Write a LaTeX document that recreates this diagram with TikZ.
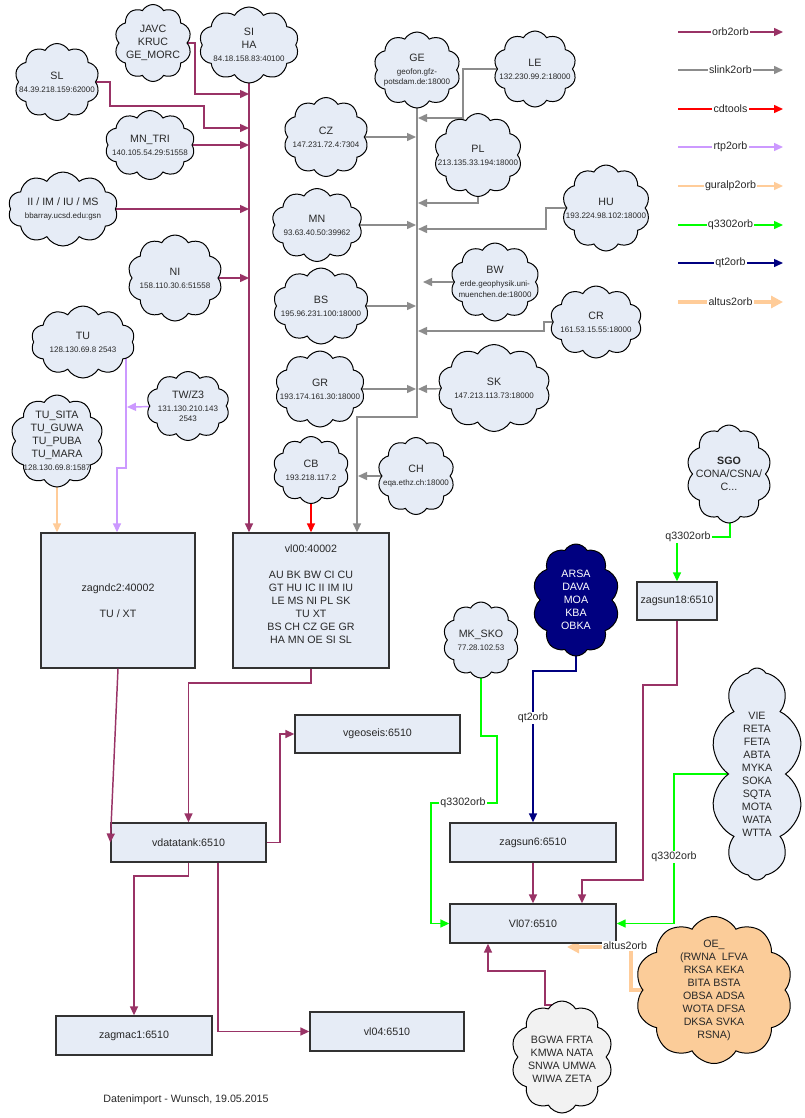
\documentclass[tikz,border=0pt]{standalone}
\usepackage{fontspec}
\setmainfont{Liberation Sans}
\usetikzlibrary{shapes.symbols,arrows.meta,backgrounds}
\definecolor{cfill}{RGB}{230,236,246}
\definecolor{cbox}{RGB}{50,50,50}
\definecolor{corb}{RGB}{153,51,102}
\definecolor{cslink}{RGB}{140,140,140}
\definecolor{ccd}{RGB}{255,0,0}
\definecolor{crtp}{RGB}{204,153,255}
\definecolor{cgur}{RGB}{255,204,153}
\definecolor{cq}{RGB}{0,255,0}
\definecolor{cqt}{RGB}{0,0,128}
\definecolor{ctxt}{RGB}{40,40,40}
\definecolor{cgrey}{RGB}{242,242,242}
\definecolor{coe}{RGB}{251,204,153}
\newcommand\nmf{\fontsize{8}{9.75}\selectfont}
\newcommand\ipf{\fontsize{6}{7.5}\selectfont}
\begin{document}
\begin{tikzpicture}[x=0.75pt,y=-0.75pt,
  cl/.style={cloud, cloud puffs=10, cloud puff arc=120, cloud ignores aspect, draw=black, line width=0.75pt, fill=cfill, inner sep=0pt},
  cltxt/.style={align=center, font=\nmf, text=ctxt, inner sep=0pt},
  bx/.style={draw=cbox, line width=1pt, fill=cfill, align=center, font=\nmf, text=ctxt, inner sep=0pt},
  con/.style={line width=1.1pt, -{Triangle[length=6.75pt,width=6pt]}},
  orb/.style={con, draw=corb},
  slink/.style={con, draw=cslink},
  cdt/.style={con, draw=ccd},
  rtp/.style={con, draw=crtp},
  gur/.style={con, draw=cgur},
  q3/.style={con, draw=cq},
  qt/.style={con, draw=cqt},
  alt/.style={line width=2.4pt, draw=cgur, -{Triangle[length=9pt,width=9pt]}},
  lbl/.style={fill=white, font=\nmf, text=ctxt, inner sep=1pt},
]
\useasboundingbox (0,0) rectangle (805,1118);

% ---------- clouds ----------
\node[cl, minimum width=57.75pt, minimum height=57.75pt, label={[cltxt]center:{JAVC\\KRUC\\GE\_MORC}}] (javc) at (153,43) {};
\node[cl, minimum width=75pt, minimum height=57pt, label={[cltxt]center:{SI\\HA\\{\ipf 84.18.158.83:40100}}}] (si) at (249,45) {};
\node[cl, minimum width=63.75pt, minimum height=57.75pt, label={[cltxt]center:{SL\\{\ipf 84.39.218.159:62000}}}] (sl) at (57,82) {};
\node[cl, minimum width=67.5pt, minimum height=51.75pt, label={[cltxt]center:{MN\_TRI\\{\ipf 140.105.54.29:51558}}}] (mntri) at (150,145) {};
\node[cl, minimum width=82.5pt, minimum height=55.5pt, label={[cltxt]center:{II / IM / IU / MS\\{\ipf bbarray.ucsd.edu:gsn}}}] (ii) at (63,209) {};
\node[cl, minimum width=71.25pt, minimum height=64.5pt, label={[cltxt]center:{NI\\{\ipf 158.110.30.6:51558}}}] (ni) at (175,278) {};
\node[cl, minimum width=78pt, minimum height=54pt, label={[cltxt]center:{TU\\{\ipf 128.130.69.8 2543}}}] (tu) at (83,342) {};
\node[cl, minimum width=62.25pt, minimum height=51.75pt, label={[cltxt]center:{TW/Z3\\{\ipf 131.130.210.143}\\[-1.8pt]{\ipf 2543}}}] (twz3) at (188,406) {};
\node[cl, minimum width=70pt, minimum height=69pt, label={[cltxt]center:{TU\_SITA\\TU\_GUWA\\TU\_PUBA\\TU\_MARA\\{\ipf 128.130.69.8:1587}}}] (tusita) at (57,441) {};
\node[cl, minimum width=65.25pt, minimum height=57pt, label={[cltxt]center:{GE\\{\ipf geofon.gfz-}\\[-1.8pt]{\ipf potsdam.de:18000}}}] (ge) at (417,70) {};
\node[cl, minimum width=62.25pt, minimum height=57pt, label={[cltxt]center:{LE\\{\ipf 132.230.99.2:18000}}}] (le) at (535,69) {};
\node[cl, minimum width=63.75pt, minimum height=59.25pt, label={[cltxt]center:{CZ\\{\ipf 147.231.72.4:7304}}}] (cz) at (326,137) {};
\node[cl, minimum width=66pt, minimum height=62.25pt, label={[cltxt]center:{PL\\{\ipf 213.135.33.194:18000}}}] (pl) at (478,155) {};
\node[cl, minimum width=68.25pt, minimum height=54.75pt, label={[cltxt]center:{MN\\{\ipf 93.63.40.50:39962}}}] (mn) at (317,225) {};
\node[cl, minimum width=66pt, minimum height=64.5pt, label={[cltxt]center:{HU\\{\ipf 193.224.98.102:18000}}}] (hu) at (606,208) {};
\node[cl, minimum width=66.75pt, minimum height=58.5pt, label={[cltxt]center:{BW\\{\ipf erde.geophysik.uni-}\\[-1.8pt]{\ipf muenchen.de:18000}}}] (bw) at (495,282) {};
\node[cl, minimum width=72pt, minimum height=57pt, label={[cltxt]center:{BS\\{\ipf 195.96.231.100:18000}}}] (bs) at (321,306) {};
\node[cl, minimum width=69pt, minimum height=54pt, label={[cltxt]center:{CR\\{\ipf 161.53.15.55:18000}}}] (cr) at (596,322) {};
\node[cl, minimum width=67.5pt, minimum height=57pt, label={[cltxt]center:{GR\\{\ipf 193.174.161.30:18000}}}] (gr) at (320,389) {};
\node[cl, minimum width=84.75pt, minimum height=65.25pt, label={[cltxt]center:{SK\\{\ipf 147.213.113.73:18000}}}] (sk) at (494,388) {};
\node[cl, minimum width=57pt, minimum height=50.25pt, label={[cltxt]center:{CB\\{\ipf 193.218.117.2}}}] (cb) at (311,470) {};
\node[cl, minimum width=57.75pt, minimum height=57.75pt, label={[cltxt]center:{CH\\{\ipf eqa.ethz.ch:18000}}}] (ch) at (416,476) {};
\node[cl, minimum width=64pt, minimum height=73.5pt, label={[cltxt]center:{\textbf{SGO}\\CONA/CSNA/\\C...}}] (sgo) at (729,474) {};
\node[cl, fill=cqt, minimum width=65.25pt, minimum height=84pt, label={[cltxt, text=white]center:{ARSA\\DAVA\\MOA\\KBA\\OBKA}}] (arsa) at (576,600) {};
\node[cl, minimum width=57pt, minimum height=57pt, label={[cltxt]center:{MK\_SKO\\{\ipf 77.28.102.53}}}] (mksko) at (481,640) {};
\node[cl, minimum width=69pt, minimum height=159pt, label={[cltxt]center:{VIE\\RETA\\FETA\\ABTA\\MYKA\\SOKA\\SQTA\\MOTA\\WATA\\WTTA}}] (vie) at (757,774) {};
\node[cl, fill=coe, minimum width=118.5pt, minimum height=110.25pt, label={[cltxt]center:{OE\_\\(RWNA\ \ LFVA\\RKSA KEKA\\BITA BSTA\\OBSA ADSA\\WOTA DFSA\\DKSA SVKA\\RSNA)}}] (oe) at (714,990) {};
\node[cl, fill=cgrey, minimum width=76.5pt, minimum height=84pt, label={[cltxt, yshift=-2pt]center:{BGWA FRTA\\KMWA NATA\\SNWA UMWA\\WIWA ZETA}}] (bgwa) at (562,1057) {};

% ---------- boxes ----------
\node[bx, minimum width=115.5pt, minimum height=101.25pt] (zagndc2) at (118,600.5) {zagndc2:40002\\[9.75pt]TU / XT};
\node[bx, minimum width=117pt, minimum height=101.25pt, label={[cltxt, yshift=4.9pt]center:{vl00:40002\\[9.75pt]AU BK BW CI CU\\GT HU IC II IM IU\\LE MS NI PL SK\\TU XT\\BS CH CZ GE GR\\HA MN OE SI SL}}] (vl00) at (311,600.5) {};
\node[bx, minimum width=116.25pt, minimum height=29.25pt] (vdatatank) at (188.5,842.5) {vdatatank:6510};
\node[bx, minimum width=123.75pt, minimum height=28.5pt] (vgeoseis) at (377.5,734) {vgeoseis:6510};
\node[bx, minimum width=117pt, minimum height=29.25pt] (zagmac1) at (134,1035.5) {zagmac1:6510};
\node[bx, minimum width=115.5pt, minimum height=29.25pt] (vl04) at (387,1031.5) {vl04:6510};
\node[bx, minimum width=124.5pt, minimum height=29.25pt] (zagsun6) at (533,842.5) {zagsun6:6510};
\node[bx, minimum width=124.5pt, minimum height=29.25pt] (vl07) at (533,923.5) {Vl07:6510};
\node[bx, minimum width=60pt, minimum height=28.5pt] (zagsun18) at (677,601) {zagsun18:6510};

\node[font=\nmf, text=ctxt] (footer) at (186,1100) {Datenimport - Wunsch, 19.05.2015};

% ---------- connectors ----------
\begin{pgfonlayer}{background}
\fill[white] (0,0) rectangle (805,1118);
% orb2orb
\draw[orb] (si.center) -- (vl00.north -| si.center);
\draw[orb] (javc.center) -| (195,94) -- (249,94);
\draw[orb] (sl.center) -| (110,106) -| (204,128) -- (249,128);
\draw[orb] (mntri.center) -- (249,145);
\draw[orb] (ii.center) -- (249,209);
\draw[orb] (ni.center) -- (249,278);
\draw[orb] (vl00.south) -- (311,683) -| (vdatatank.north);
\draw[orb] (vdatatank.east) -| (280,734) -- (vgeoseis.west);
\draw[orb] (vdatatank.south) -- (188.5,876) -| (zagmac1.north);
\draw[orb] (218,862 |- vdatatank.south) |- (vl04.west);
\draw[orb] (zagsun18.south) |- (643,685) |- (582,880) -- (582,880 |- vl07.north);
\draw[orb] (zagsun6.south) -- (vl07.north);
\draw[orb] (bgwa.center) |- (545,1005) |- (488,971) -- (488,971 |- vl07.south);
% slink2orb
\draw[slink] (ge.center) -- (417,417) -| (357,417 |- vl00.north);
\draw[slink] (le.center) -| (463,118) -- (418,118);
\draw[slink] (cz.center) -- (416,137);
\draw[slink] (pl.center) |- (418,203);
\draw[slink] (mn.center) -- (416,225);
\draw[slink] (hu.center) -| (546,229) -- (418,229);
\draw[slink] (bw.center) -- (423,282);
\draw[slink] (bs.center) -- (416,306);
\draw[slink] (cr.center) -| (544,331) -- (418,331);
\draw[slink] (gr.center) -- (416,389);
\draw[slink] (sk.center) -- (418,389);
\draw[slink] (ch.center) -- (358,476);
% cdtools
\draw[cdt] (cb.center) -- (vl00.north -| cb.center);
% rtp2orb
\draw[rtp] (126,342 |- tu.center) |- (117,468) -- (117,468 |- zagndc2.north);
\draw[rtp] (twz3.center) -- (127,407);
% guralp2orb
\draw[gur] (tusita.center) -- (zagndc2.north -| tusita.center);
% q3302orb
\draw[q3] (730,474 |- sgo.center) |- (677,537) -- (zagsun18.north);
\draw[q3] (mksko.center) |- (497,736) |- (431,803) |- (vl07.west);
\draw[q3] (vie.center) -| (674,857) |- (vl07.east);
% qt2orb
\draw[qt] (arsa.center) |- (533,671) -- (zagsun6.north);
% altus2orb
\draw[alt] (oe.center) -| (631,947) -- (567,947);
\end{pgfonlayer}
\draw[orb] (zagndc2.south) -- (vdatatank.west);

% connector labels
\node[lbl] (lq1) at (688,537) {q3302orb};
\node[lbl] (lq2) at (463,803) {q3302orb};
\node[lbl] (lq3) at (674,857) {q3302orb};
\node[lbl] (lqt) at (533,718) {qt2orb};
\node[lbl] (lalt) at (625,946) {altus2orb};

% ---------- legend ----------
\coordinate (lgs1) at (678,32);  \coordinate (lge1) at (783,32);
\coordinate (lgs2) at (678,70);  \coordinate (lge2) at (783,70);
\coordinate (lgs3) at (678,109); \coordinate (lge3) at (783,109);
\coordinate (lgs4) at (678,147); \coordinate (lge4) at (783,147);
\coordinate (lgs5) at (678,186); \coordinate (lge5) at (783,186);
\coordinate (lgs6) at (678,225); \coordinate (lge6) at (783,225);
\coordinate (lgs7) at (678,263); \coordinate (lge7) at (783,263);
\coordinate (lgs8) at (678,302); \coordinate (lge8) at (783,302);
\draw[orb] (lgs1) -- node[lbl] (lgl1) {orb2orb} (lge1);
\draw[slink] (lgs2) -- node[lbl] (lgl2) {slink2orb} (lge2);
\draw[cdt] (lgs3) -- node[lbl] (lgl3) {cdtools} (lge3);
\draw[rtp] (lgs4) -- node[lbl] (lgl4) {rtp2orb} (lge4);
\draw[gur] (lgs5) -- node[lbl] (lgl5) {guralp2orb} (lge5);
\draw[q3] (lgs6) -- node[lbl] (lgl6) {q3302orb} (lge6);
\draw[qt] (lgs7) -- node[lbl] (lgl7) {qt2orb} (lge7);
\draw[alt] (lgs8) -- node[lbl] (lgl8) {altus2orb} (lge8);
\end{tikzpicture}
\end{document}
